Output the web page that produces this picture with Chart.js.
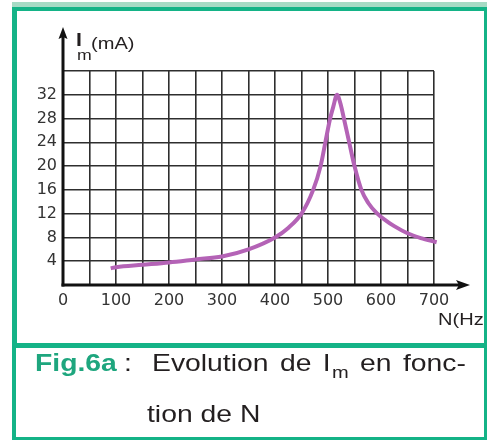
<!DOCTYPE html>
<html lang="fr">
<head>
<meta charset="utf-8">
<title>Fig.6a</title>
<script src="https://cdn.jsdelivr.net/npm/chart.js@4.4.1/dist/chart.umd.min.js"></script>
<style>
  html, body { margin: 0; padding: 0; background: #fff; }
  body { width: 487px; height: 441px; position: relative; overflow: hidden;
         font-family: "Liberation Sans", Arial, sans-serif; color: #231f20; }
  #graphe { position: absolute; left: 0; top: 0; }
  .txt { position: absolute; white-space: nowrap; transform-origin: 0 0; transform: scaleX(1.18); }
  .bord { position: absolute; box-sizing: border-box; border-color: #14b387; border-style: solid; }
</style>
</head>
<body>
<canvas id="graphe" width="487" height="441"></canvas>

<!-- titres des axes -->
<span class="txt" style="left:76px; top:31px; font-size:18px; line-height:18px; font-weight:bold;">I</span>
<span class="txt" style="left:77px; top:47px; font-size:15px; line-height:15px;">m</span>
<span class="txt" style="left:91px; top:35px; font-size:17px; line-height:17px;">(mA)</span>
<span class="txt" style="left:438px; top:311px; font-size:17px; line-height:17px;">N(Hz)</span>

<!-- légende de la figure -->
<span class="txt" style="left:35px; top:351px; font-size:24px; line-height:24px; font-weight:bold; color:#1ea67e;">Fig.6a</span>
<span class="txt" style="left:124px; top:351px; font-size:24px; line-height:24px;">:</span>
<span class="txt" style="left:152px; top:351px; font-size:24px; line-height:24px; word-spacing:3px;">Evolution de I<span style="font-size:17px; position:relative; top:7px; margin-left:1px;">m</span> en fonc-</span>
<span class="txt" style="left:147px; top:402px; font-size:24px; line-height:24px;">tion de N</span>

<!-- cadre vert -->
<div style="position:absolute; left:12px; top:2px; width:475px; height:5px; background:#a6dbc5;"></div>
<div class="bord" style="left:12px; top:7px; width:475px; height:341px; border-width:4px 3px 5px 5px;"></div>
<div class="bord" style="left:12px; top:348px; width:475px; height:92px; border-width:0 3px 3px 4px;"></div>

<script>
// 1) Valeurs lues sur la courbe de résonance
const frequences = [90, 100, 150, 200, 250, 300, 350, 400, 425, 450, 472, 486, 495, 504, 510, 517,
                    525, 530, 540, 550, 563, 576, 592, 610, 625, 650, 675, 705];      // N en Hz
const intensites = [2.8, 3.0, 3.4, 3.8, 4.3, 4.8, 6.0, 8.0, 9.6, 12, 16, 20, 24, 28, 30, 32,
                    30, 28, 24, 20, 16, 13.8, 12.1, 10.8, 9.9, 8.7, 7.9, 7.2];        // Im en mA
const graduationsN = [0, 100, 200, 300, 400, 500, 600, 700];  // valeurs écrites sous l'axe N
const graduationsI = [4, 8, 12, 16, 20, 24, 28, 32];          // valeurs écrites à gauche de l'axe Im

// 2) Plugin qui trace les deux axes avec leurs flèches (hors de la zone du graphe)
const axesFleches = {
  id: 'axesFleches',
  afterDraw(chart) {
    const { ctx, chartArea, scales: { x, y } } = chart;
    const x0 = x.getPixelForValue(0);
    const y0 = y.getPixelForValue(0);
    ctx.save();
    ctx.strokeStyle = '#111';
    ctx.fillStyle = '#111';
    ctx.lineWidth = 3;

    // axe vertical + pointe
    ctx.beginPath();
    ctx.moveTo(x0, y0 + 1.5);
    ctx.lineTo(x0, chartArea.top - 36);
    ctx.stroke();
    ctx.beginPath();
    ctx.moveTo(x0, chartArea.top - 44);
    ctx.lineTo(x0 - 4.5, chartArea.top - 32);
    ctx.lineTo(x0, chartArea.top - 34);
    ctx.lineTo(x0 + 4.5, chartArea.top - 32);
    ctx.closePath();
    ctx.fill();

    // axe horizontal + pointe
    ctx.beginPath();
    ctx.moveTo(x0 - 1.5, y0);
    ctx.lineTo(chartArea.right + 28, y0);
    ctx.stroke();
    ctx.beginPath();
    ctx.moveTo(chartArea.right + 36, y0);
    ctx.lineTo(chartArea.right + 22, y0 - 5);
    ctx.lineTo(chartArea.right + 25, y0);
    ctx.lineTo(chartArea.right + 22, y0 + 5);
    ctx.closePath();
    ctx.fill();
    ctx.restore();
  }
};

// 3) Création du graphe
document.addEventListener('DOMContentLoaded', () => {
  const ctx = document.getElementById('graphe').getContext('2d');
  const police = { family: '"DejaVu Sans", "Liberation Sans", Arial, sans-serif', size: 16 };

  new Chart(ctx, {
    type: 'line',
    data: {
      datasets: [{
        data: frequences.map((n, i) => ({ x: n, y: intensites[i] })),
        borderColor: '#b463b6',
        borderWidth: 4,
        pointRadius: 0,
        cubicInterpolationMode: 'monotone',
        fill: false,
        clip: false
      }]
    },
    options: {
      responsive: false,
      animation: false,
      layout: { padding: { left: 0, top: 71, right: 53, bottom: 126 } },
      plugins: { legend: { display: false }, tooltip: { enabled: false } },
      scales: {
        x: {
          type: 'linear', min: 0, max: 700,
          border: { display: false },
          grid: { color: '#2e2e2e', lineWidth: 1.6, drawTicks: false },
          afterFit(s) { s.height = 30; },
          ticks: {
            stepSize: 50, autoSkip: false, maxRotation: 0, padding: 6,
            color: '#333', font: police,
            callback: v => graduationsN.includes(v) ? String(v) : ''
          }
        },
        y: {
          min: 0, max: 36,
          border: { display: false },
          grid: { color: '#2e2e2e', lineWidth: 1.6, drawTicks: false },
          afterFit(s) { s.width = 63; },
          ticks: {
            stepSize: 4, padding: 6,
            color: '#333', font: police,
            callback: v => graduationsI.includes(v) ? String(v) : ''
          }
        }
      }
    },
    plugins: [axesFleches]
  });
});
</script>
</body>
</html>
